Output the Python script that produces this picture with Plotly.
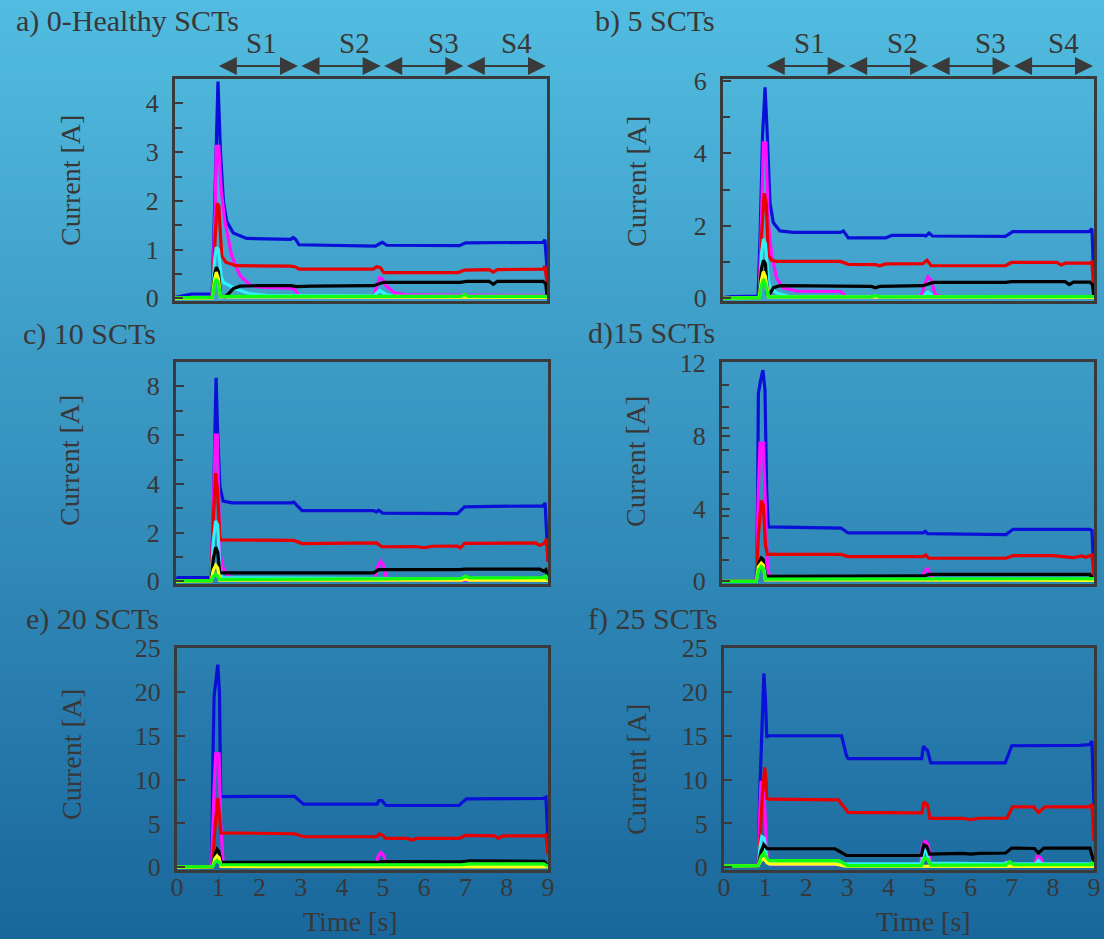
import plotly.graph_objects as go
from plotly.subplots import make_subplots

# ---------------- data: (time [s], current [A]) ----------------
A_BLUE = [(0, 0.02), (0.2, 0.06), (0.4, 0.09), (0.85, 0.09), (0.9, 0.1), (0.97, 2.2), (1.04, 4.45), (1.1, 3.0),
          (1.17, 2.0), (1.25, 1.58), (1.41, 1.34), (1.73, 1.23), (2.8, 1.21), (2.86, 1.25), (2.92, 1.21),
          (3.0, 1.1), (4.0, 1.09), (4.85, 1.07), (4.95, 1.12), (5.02, 1.15), (5.12, 1.09), (6.0, 1.08),
          (6.88, 1.08), (7.03, 1.14), (8.0, 1.15), (8.9, 1.15), (8.95, 1.2), (9.0, 0.62)]
A_MAGENTA = [(0, 0.0), (0.9, 0.02), (0.97, 1.8), (1.0, 3.12), (1.06, 3.12), (1.12, 2.2), (1.21, 1.56),
             (1.37, 0.88), (1.57, 0.47), (1.82, 0.27), (2.06, 0.23), (2.8, 0.21), (2.9, 0.18), (3.0, 0.06),
             (4.8, 0.04), (4.87, 0.2), (4.95, 0.42), (5.02, 0.4), (5.1, 0.26), (5.3, 0.12), (5.6, 0.07),
             (9.0, 0.06)]
A_RED = [(0, 0.0), (0.9, 0.02), (0.97, 1.2), (1.02, 1.95), (1.06, 1.9), (1.13, 0.87), (1.23, 0.74),
         (1.47, 0.67), (2.8, 0.66), (2.9, 0.65), (3.0, 0.6), (4.8, 0.6), (4.88, 0.65), (4.97, 0.63),
         (5.05, 0.53), (6.85, 0.53), (7.0, 0.58), (7.6, 0.59), (7.7, 0.54), (7.8, 0.59), (8.9, 0.6),
         (8.95, 0.66), (9.0, 0.32)]
A_CYAN = [(0, 0.0), (0.9, 0.02), (0.96, 0.8), (1.0, 1.05), (1.05, 1.0), (1.12, 0.45), (1.17, 0.33),
          (1.3, 0.27), (1.5, 0.18), (1.8, 0.1), (2.2, 0.06), (4.8, 0.05), (4.95, 0.16), (5.1, 0.08),
          (5.3, 0.04), (9.0, 0.04)]
A_BLACK = [(0, 0.0), (0.9, 0.02), (0.96, 0.5), (1.0, 0.64), (1.05, 0.55), (1.1, 0.05), (1.2, 0.03),
           (1.3, 0.1), (1.41, 0.2), (1.57, 0.25), (2.0, 0.26), (2.8, 0.26), (2.95, 0.24), (3.3, 0.25),
           (4.8, 0.26), (5.05, 0.33), (6.9, 0.33), (7.05, 0.35), (7.6, 0.35), (7.7, 0.29), (7.8, 0.35),
           (8.9, 0.35), (8.97, 0.3), (9.0, 0.06)]
A_YELLOW = [(0, 0.0), (0.9, 0.01), (0.96, 0.4), (1.0, 0.54), (1.05, 0.4), (1.1, 0.03), (9.0, 0.02)]
A_GREEN = [(0, 0.01), (0.9, 0.02), (0.96, 0.3), (1.0, 0.4), (1.05, 0.3), (1.1, 0.04), (6.9, 0.04),
           (7.0, 0.08), (7.1, 0.04), (9.0, 0.04)]

B_BLUE = [(0, 0.02), (0.2, 0.05), (0.85, 0.06), (0.9, 1.7), (0.96, 4.5), (1.02, 5.82), (1.07, 4.6),
          (1.14, 2.63), (1.22, 2.09), (1.38, 1.86), (1.7, 1.82), (2.85, 1.82), (2.92, 1.86), (3.04, 1.67),
          (3.95, 1.67), (4.1, 1.74), (4.85, 1.74), (4.92, 1.72), (5.0, 1.8), (5.08, 1.72), (6.85, 1.71),
          (7.03, 1.84), (8.88, 1.84), (8.95, 1.92), (9.0, 0.4)]
B_MAGENTA = [(0, 0.0), (0.88, 0.03), (0.94, 2.5), (0.98, 4.29), (1.04, 4.29), (1.1, 2.09), (1.18, 1.19),
             (1.3, 0.56), (1.46, 0.29), (1.79, 0.2), (2.86, 0.19), (3.0, 0.03), (4.8, 0.03), (4.88, 0.35),
             (4.97, 0.6), (5.05, 0.5), (5.15, 0.1), (5.3, 0.05), (9.0, 0.04)]
B_RED = [(0, 0.0), (0.88, 0.03), (0.94, 1.8), (1.0, 2.9), (1.05, 2.6), (1.1, 1.19), (1.18, 1.05),
         (1.3, 1.02), (2.85, 1.02), (3.04, 0.94), (3.7, 0.93), (3.8, 0.9), (3.95, 0.95), (4.85, 0.96),
         (4.95, 1.05), (5.05, 0.9), (6.85, 0.9), (7.0, 0.99), (8.1, 0.99), (8.2, 0.92), (8.3, 0.97),
         (8.9, 0.97), (8.95, 1.0), (9.0, 0.12)]
B_CYAN = [(0, 0.0), (0.88, 0.02), (0.93, 1.2), (0.98, 1.64), (1.03, 1.5), (1.1, 0.5), (1.14, 0.3),
          (1.3, 0.15), (1.6, 0.05), (4.85, 0.04), (4.97, 0.17), (5.1, 0.05), (9.0, 0.04)]
B_BLACK = [(0, 0.0), (0.88, 0.02), (0.93, 0.8), (0.98, 1.05), (1.03, 0.95), (1.08, 0.08), (1.15, 0.15),
           (1.22, 0.29), (1.38, 0.35), (2.85, 0.35), (3.6, 0.33), (3.7, 0.29), (3.8, 0.33), (4.85, 0.35),
           (5.1, 0.44), (6.85, 0.44), (7.0, 0.46), (8.3, 0.46), (8.4, 0.38), (8.5, 0.45), (8.9, 0.45),
           (8.96, 0.38), (9.0, 0.06)]
B_YELLOW = [(0, 0.0), (0.88, 0.02), (0.93, 0.5), (0.98, 0.74), (1.03, 0.6), (1.1, 0.04), (9.0, 0.03)]
B_GREEN = [(0, 0.0), (0.88, 0.02), (0.93, 0.35), (0.98, 0.52), (1.03, 0.4), (1.1, 0.04), (3.6, 0.04),
           (3.7, 0.08), (3.8, 0.04), (9.0, 0.05)]

C_BLUE = [(0, 0.1), (0.05, 0.15), (0.85, 0.15), (0.9, 2.5), (0.94, 6.0), (0.97, 8.35), (1.0, 6.5),
          (1.06, 3.9), (1.14, 3.29), (1.36, 3.22), (2.8, 3.22), (2.85, 3.25), (3.05, 2.9), (4.78, 2.9),
          (4.85, 2.85), (4.9, 2.92), (5.0, 2.8), (6.81, 2.78), (6.98, 3.06), (8.88, 3.1), (8.93, 3.22),
          (9.0, 0.8)]
C_MAGENTA = [(0, 0.0), (0.85, 0.03), (0.91, 3.5), (0.95, 6.0), (1.0, 6.0), (1.06, 1.2), (1.14, 0.53),
             (1.27, 0.23), (1.4, 0.06), (2.8, 0.05), (2.9, 0.12), (3.0, 0.05), (4.78, 0.05), (4.88, 0.6),
             (4.95, 0.82), (5.02, 0.65), (5.1, 0.05), (9.0, 0.05)]
C_RED = [(0, 0.0), (0.85, 0.03), (0.9, 2.5), (0.96, 4.44), (1.0, 3.8), (1.06, 1.8), (1.1, 1.7), (2.8, 1.7),
         (2.85, 1.68), (3.05, 1.55), (4.78, 1.55), (4.85, 1.58), (4.98, 1.42), (5.8, 1.43), (6.0, 1.38),
         (6.2, 1.44), (6.8, 1.45), (6.88, 1.38), (6.98, 1.56), (8.7, 1.58), (8.8, 1.47), (8.9, 1.55),
         (8.97, 1.75), (9.0, 0.8)]
C_CYAN = [(0, 0.0), (0.85, 0.02), (0.9, 1.6), (0.96, 2.48), (1.01, 2.3), (1.06, 0.5), (1.12, 0.15),
          (9.0, 0.08)]
C_BLACK = [(0, 0.0), (0.85, 0.02), (0.9, 0.9), (0.96, 1.4), (1.01, 1.2), (1.06, 0.35), (4.78, 0.35),
           (4.9, 0.48), (6.85, 0.48), (7.0, 0.5), (8.8, 0.5), (8.9, 0.42), (8.95, 0.48), (9.0, 0.1)]
C_YELLOW = [(0, 0.0), (0.85, 0.02), (0.9, 0.45), (0.96, 0.66), (1.01, 0.55), (1.06, 0.05), (6.9, 0.05),
            (7.0, 0.1), (7.1, 0.05), (9.0, 0.04)]
C_GREEN = [(0, 0.02), (0.85, 0.03), (0.9, 0.2), (0.96, 0.3), (1.01, 0.2), (1.06, 0.08), (4.9, 0.1),
           (6.9, 0.12), (7.0, 0.22), (7.1, 0.14), (8.85, 0.15), (8.95, 0.22), (9.0, 0.05)]

D_BLUE = [(0, 0.0), (0.83, 0.0), (0.86, 4.0), (0.88, 10.3), (0.93, 11.0), (0.99, 11.6), (1.04, 10.5),
          (1.08, 5.0), (1.12, 2.99), (2.88, 2.93), (3.05, 2.66), (4.86, 2.66), (4.92, 2.75), (4.97, 2.62),
          (6.87, 2.57), (7.04, 2.86), (8.89, 2.86), (8.95, 2.8), (9.0, 0.5)]
D_MAGENTA = [(0, 0.0), (0.83, 0.0), (0.88, 5.0), (0.92, 7.6), (1.0, 7.6), (1.04, 5.0), (1.1, 0.8),
             (1.15, 0.3), (1.25, 0.1), (4.83, 0.1), (4.9, 0.55), (4.97, 0.69), (5.03, 0.4), (5.1, 0.1),
             (9.0, 0.08)]
D_RED = [(0, 0.0), (0.83, 0.0), (0.88, 2.5), (0.95, 4.43), (1.0, 4.2), (1.05, 2.0), (1.1, 1.48),
         (2.88, 1.48), (3.05, 1.36), (4.86, 1.36), (4.93, 1.45), (5.0, 1.27), (6.87, 1.27), (7.04, 1.41),
         (8.0, 1.41), (8.3, 1.35), (8.5, 1.3), (8.7, 1.4), (8.8, 1.32), (8.95, 1.45), (9.0, 0.3)]
D_CYAN = [(0, 0.0), (0.83, 0.0), (0.88, 1.0), (0.95, 1.3), (1.0, 1.2), (1.05, 0.15), (9.0, 0.1)]
D_BLACK = [(0, 0.0), (0.83, 0.0), (0.88, 1.0), (0.95, 1.3), (1.0, 1.2), (1.05, 0.27), (4.9, 0.3),
           (5.0, 0.38), (8.9, 0.38), (9.0, 0.1)]
D_YELLOW = [(0, 0.0), (0.83, 0.0), (0.88, 0.8), (0.95, 1.0), (1.0, 0.9), (1.05, 0.08), (9.0, 0.06)]
D_GREEN = [(0, 0.0), (0.83, 0.0), (0.88, 0.6), (0.95, 0.82), (1.0, 0.7), (1.05, 0.12), (9.0, 0.15)]

E_BLUE = [(0, 0.0), (0.84, 0.05), (0.87, 12.0), (0.9, 19.5), (0.95, 21.5), (0.99, 23.1), (1.03, 20.0),
          (1.06, 8.07), (2.85, 8.1), (3.07, 7.2), (4.85, 7.2), (4.9, 7.6), (4.97, 7.6), (5.07, 7.06),
          (6.84, 7.05), (7.02, 7.8), (8.88, 7.85), (8.95, 8.0), (9.0, 3.0)]
E_MAGENTA = [(0, 0.0), (0.84, 0.05), (0.9, 9.0), (0.94, 12.95), (1.02, 12.95), (1.06, 5.0), (1.12, 0.4),
             (1.2, 0.1), (4.82, 0.1), (4.88, 1.3), (4.95, 1.69), (5.02, 1.3), (5.08, 0.2), (9.0, 0.15)]
E_RED = [(0, 0.0), (0.86, 0.05), (0.92, 4.5), (0.99, 7.9), (1.03, 6.0), (1.06, 3.94), (2.85, 3.83),
         (3.07, 3.49), (4.85, 3.5), (4.9, 3.8), (4.97, 3.7), (5.07, 3.3), (5.6, 3.3), (5.7, 3.1), (5.8, 3.3),
         (6.84, 3.3), (7.0, 3.64), (7.7, 3.6), (7.8, 3.3), (7.9, 3.6), (8.88, 3.6), (8.95, 3.7), (9.0, 1.5)]
E_CYAN = [(0, 0.0), (0.86, 0.05), (0.92, 1.5), (0.97, 2.1), (1.02, 1.8), (1.07, 0.2), (9.0, 0.15)]
E_BLACK = [(0, 0.0), (0.86, 0.05), (0.92, 1.5), (0.97, 2.06), (1.02, 1.8), (1.07, 0.56), (4.85, 0.56),
           (4.95, 0.65), (6.9, 0.62), (7.1, 0.75), (8.9, 0.7), (9.0, 0.2)]
E_YELLOW = [(0, 0.0), (0.86, 0.05), (0.92, 1.0), (0.97, 1.3), (1.02, 1.1), (1.07, 0.1), (9.0, 0.05)]
E_GREEN = [(0, 0.05), (0.86, 0.1), (0.92, 0.6), (0.97, 0.75), (1.02, 0.6), (1.07, 0.3), (6.9, 0.3),
           (7.1, 0.4), (8.9, 0.4), (9.0, 0.1)]

F_BLUE = [(0, 0.15), (0.83, 0.2), (0.88, 10.0), (0.93, 18.0), (0.97, 22.1), (1.01, 19.0), (1.04, 14.8),
          (1.07, 15.0), (2.86, 15.0), (2.98, 12.7), (3.02, 12.4), (4.81, 12.4), (4.85, 13.8), (4.95, 13.3),
          (5.03, 11.9), (6.84, 11.9), (7.0, 13.86), (8.66, 13.9), (8.9, 14.0), (8.95, 14.4), (9.0, 7.0)]
F_MAGENTA = [(0, 0.15), (0.83, 0.2), (0.87, 6.0), (0.9, 9.7), (0.96, 9.7), (1.0, 6.0), (1.05, 1.0),
             (1.12, 0.3), (4.78, 0.3), (4.83, 2.6), (4.9, 2.96), (4.97, 2.5), (5.03, 0.4), (6.8, 0.3),
             (6.87, 0.6), (6.95, 0.3), (7.55, 0.3), (7.62, 1.26), (7.7, 1.1), (7.76, 0.3), (9.0, 0.3)]
F_RED = [(0, 0.15), (0.83, 0.2), (0.88, 3.3), (0.93, 8.0), (0.99, 11.4), (1.02, 10.0), (1.04, 7.84),
         (1.1, 7.77), (2.78, 7.7), (3.02, 6.26), (4.81, 6.2), (4.87, 7.47), (4.95, 7.1), (5.01, 5.59),
         (5.8, 5.6), (6.0, 5.45), (6.2, 5.6), (6.88, 5.6), (7.02, 6.9), (7.53, 6.9), (7.65, 6.26),
         (7.81, 6.9), (8.9, 6.9), (8.95, 7.2), (9.0, 3.0)]
F_CYAN = [(0, 0.15), (0.83, 0.2), (0.88, 2.5), (0.92, 3.5), (0.98, 3.3), (1.05, 0.6), (1.1, 0.4),
          (4.8, 0.4), (4.86, 1.8), (4.92, 2.0), (5.0, 0.5), (6.8, 0.4), (6.88, 0.55), (6.95, 0.4),
          (7.58, 0.4), (7.65, 0.77), (7.72, 0.4), (9.0, 0.4)]
F_BLACK = [(0, 0.15), (0.83, 0.2), (0.9, 1.8), (0.97, 2.57), (1.05, 2.12), (2.7, 2.12), (2.98, 1.37),
           (4.8, 1.35), (4.86, 2.57), (4.93, 2.4), (5.0, 1.5), (5.8, 1.6), (6.0, 1.5), (6.2, 1.6),
           (6.85, 1.64), (7.0, 2.2), (7.55, 2.15), (7.65, 1.64), (7.78, 2.2), (8.9, 2.2), (9.0, 0.6)]
F_YELLOW = [(0, 0.15), (0.83, 0.2), (0.9, 0.8), (0.97, 1.0), (1.05, 0.5), (1.12, 0.4), (2.7, 0.4),
            (2.95, 0.15), (9.0, 0.1)]
F_GREEN = [(0, 0.15), (0.83, 0.2), (0.9, 1.2), (0.97, 1.64), (1.05, 1.0), (1.1, 0.77), (2.8, 0.77),
           (3.0, 0.2), (4.8, 0.2), (4.88, 1.07), (4.96, 0.9), (5.03, 0.25), (6.85, 0.25), (6.95, 0.65),
           (7.05, 0.3), (8.9, 0.3), (8.95, 0.5), (9.0, 0.2)]

PANEL_TITLES = ["a) 0-Healthy SCTs", "b) 5 SCTs", "c) 10 SCTs", "d)15 SCTs", "e) 20 SCTs", "f) 25 SCTs"]
Y_MAX = [4.5, 6.05, 9.0, 12.05, 25.0, 25.0]
Y_TICKS = [[0, 1, 2, 3, 4], [0, 2, 4, 6], [0, 2, 4, 6, 8], [0, 4, 8, 12],
           [0, 5, 10, 15, 20, 25], [0, 5, 10, 15, 20, 25]]
Y_MINOR = [0.5, 1, 1, 1.2, None, None]
X_TICKS = list(range(0, 10))
STAGE_EDGES = [1, 3, 5, 7, 9]
STAGE_LABELS = ["S1", "S2", "S3", "S4"]
STAGE_LABEL_T = [2.1, 4.35, 6.5, 8.25]
SERIES_NAMES = ["blue", "magenta", "red", "cyan", "black", "yellow", "green"]
PANEL_SERIES = [
    [A_BLUE, A_MAGENTA, A_RED, A_CYAN, A_BLACK, A_YELLOW, A_GREEN],
    [B_BLUE, B_MAGENTA, B_RED, B_CYAN, B_BLACK, B_YELLOW, B_GREEN],
    [C_BLUE, C_MAGENTA, C_RED, C_CYAN, C_BLACK, C_YELLOW, C_GREEN],
    [D_BLUE, D_MAGENTA, D_RED, D_CYAN, D_BLACK, D_YELLOW, D_GREEN],
    [E_BLUE, E_MAGENTA, E_RED, E_CYAN, E_BLACK, E_YELLOW, E_GREEN],
    [F_BLUE, F_MAGENTA, F_RED, F_CYAN, F_BLACK, F_YELLOW, F_GREEN],
]

# ---------------- style ----------------
W, H = 1104, 939
FONT = "Liberation Serif"
TXT = "#383838"
AXC = "#3a3a3a"
COLORS = {"blue": "#0a10d8", "magenta": "#ff10ff", "red": "#e80000", "cyan": "#30f0f8",
          "black": "#000000", "yellow": "#ffff10", "green": "#10ff10"}
# pixel boxes of the six plot areas (left, right, top, bottom)
BOXES = [(175, 547, 79, 301), (723, 1094, 79, 301),
         (176, 548, 362, 584), (722, 1094, 362, 584),
         (177, 548, 648, 870), (724, 1094, 648, 870)]

fig = make_subplots(rows=3, cols=2)

for k, series in enumerate(PANEL_SERIES):
    r, c = k // 2 + 1, k % 2 + 1
    for name, pts in zip(SERIES_NAMES, series):
        fig.add_trace(go.Scatter(x=[p[0] for p in pts], y=[p[1] for p in pts], mode="lines",
                                 line=dict(color=COLORS[name], width=3.2), showlegend=False,
                                 hoverinfo="skip"), row=r, col=c)

layout_axes = {}
for k in range(6):
    l, rr, t, b = BOXES[k]
    xa = "xaxis" if k == 0 else f"xaxis{k + 1}"
    ya = "yaxis" if k == 0 else f"yaxis{k + 1}"
    bottom_row = k >= 4
    layout_axes[xa] = dict(domain=[l / W, rr / W], range=[0, 9], showgrid=False, zeroline=False,
                           showline=True, mirror=True, linecolor=AXC, linewidth=3, ticks="",
                           showticklabels=bottom_row, tickvals=X_TICKS, automargin=False,
                           ticklabelstandoff=-8,
                           tickfont=dict(family=FONT, size=26, color=TXT))
    ymin = -0.012 * Y_MAX[k]
    yd = dict(domain=[1 - b / H, 1 - t / H], range=[ymin, Y_MAX[k]], showgrid=False, zeroline=False,
              showline=True, mirror=True, linecolor=AXC, linewidth=3, automargin=False,
              ticks="inside", ticklen=8, tickwidth=2, tickcolor=AXC, tickvals=Y_TICKS[k],
              ticklabelstandoff=8, tickfont=dict(family=FONT, size=26, color=TXT))
    if Y_MINOR[k]:
        yd["minor"] = dict(dtick=Y_MINOR[k], tick0=0, ticks="inside", ticklen=7, tickwidth=2,
                           tickcolor=AXC)
    layout_axes[ya] = yd
fig.update_layout(**layout_axes)

annotations = []
# panel titles
TITLE_POS = [(14, 21), (593, 21), (21, 334), (586, 333), (24, 619), (586, 619)]
for k, (px, py) in enumerate(TITLE_POS):
    annotations.append(dict(text=PANEL_TITLES[k], xref="paper", yref="paper", x=px / W, y=1 - py / H,
                            xanchor="left", yanchor="middle", showarrow=False,
                            font=dict(family=FONT, size=30, color=TXT)))
# y-axis titles
YT_POS = [(70, 181), (636, 182), (69, 461), (636, 462), (71, 755), (636, 770)]
for k, (px, py) in enumerate(YT_POS):
    annotations.append(dict(text="Current [A]", xref="paper", yref="paper", x=px / W, y=1 - py / H,
                            xanchor="center", yanchor="middle", textangle=-90, showarrow=False,
                            font=dict(family=FONT, size=28, color=TXT)))
# x-axis titles
for px, py in [(350, 921), (923, 921)]:
    annotations.append(dict(text="Time [s]", xref="paper", yref="paper", x=px / W, y=1 - py / H,
                            xanchor="center", yanchor="middle", showarrow=False,
                            font=dict(family=FONT, size=28, color=TXT)))
# stage arrows above panels a and b
for xr in ["x", "x2"]:
    for s in range(4):
        annotations.append(dict(text="", xref=xr, yref="paper", x=STAGE_EDGES[s + 1], y=1 - 66 / H,
                                axref=xr, ayref="pixel", ax=STAGE_EDGES[s], ay=0, showarrow=True,
                                arrowhead=2, startarrowhead=2, arrowside="end+start", arrowwidth=2,
                                arrowsize=1.8, startarrowsize=1.8, arrowcolor=AXC, standoff=1,
                                startstandoff=1))
        annotations.append(dict(text=STAGE_LABELS[s], xref=xr, yref="paper", x=STAGE_LABEL_T[s],
                                y=1 - 43 / H, xanchor="center", yanchor="middle", showarrow=False,
                                font=dict(family=FONT, size=29, color=TXT)))

# vertical background gradient (light cyan-blue at the top, deeper blue at the bottom)
TOP_RGB = (82, 188, 224)
BOT_RGB = (26, 103, 156)
N_BANDS = 94
shapes = []
for i in range(N_BANDS):
    f = i / (N_BANDS - 1)
    col = tuple(round(TOP_RGB[j] + (BOT_RGB[j] - TOP_RGB[j]) * f) for j in range(3))
    y1 = 1 - i / N_BANDS
    y0 = max(0, 1 - (i + 1) / N_BANDS - 0.002)
    shapes.append(dict(type="rect", xref="paper", yref="paper", x0=0, x1=1, y0=y0, y1=y1,
                       fillcolor=f"rgb{col}", line=dict(width=0), layer="below"))

fig.update_layout(width=W, height=H, margin=dict(l=0, r=0, t=0, b=0, autoexpand=False),
                  paper_bgcolor=f"rgb{BOT_RGB}", plot_bgcolor="rgba(0,0,0,0)",
                  annotations=annotations, shapes=shapes, hovermode=False)

fig.write_html("out.html", config={"displayModeBar": False},
               post_script="document.body.style.margin='0px';")
